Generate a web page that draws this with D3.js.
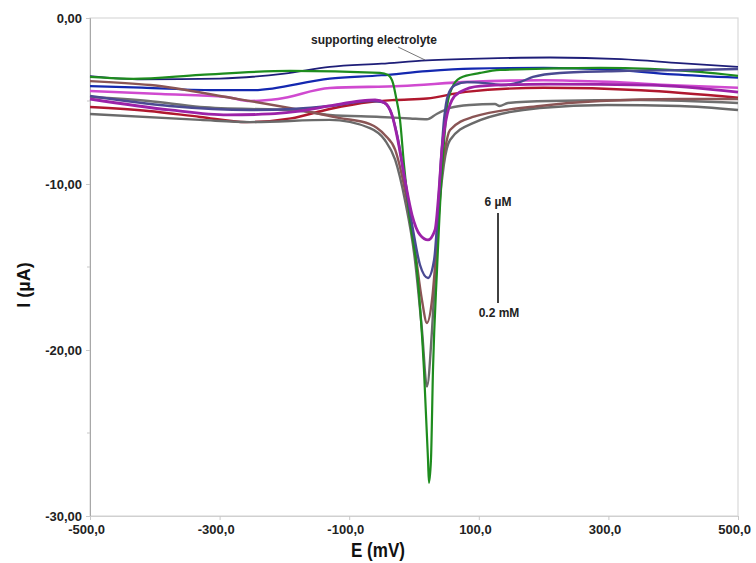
<!DOCTYPE html>
<html>
<head>
<meta charset="utf-8">
<script src="https://cdn.jsdelivr.net/npm/d3@7"></script>
<style>
  body { margin: 0; background: #fff; }
  text { font-family: "Liberation Sans", Arial, sans-serif; }
</style>
</head>
<body>
<svg id="chart" width="756" height="563"></svg>
<script>
// axis ticks
const xTicks = [-500, -300, -100, 100, 300, 500];
const yTicks = [0, -10, -20, -30];
const yMinor = [-5, -15, -25];

// voltammograms, [E (mV), I (uA)]
const electrolyte = [[-500, -3.5], [-420, -3.7], [-300, -3.65], [-200, -3.35], [-130, -2.95], [-50, -2.75],
  [20, -2.55], [130, -2.42], [210, -2.38], [320, -2.48], [410, -2.72], [500, -2.95]];
const blue = [[-500, -4.1], [-420, -4.2], [-300, -4.35], [-250, -4.35], [-130, -3.65], [-50, -3.45],
  [20, -3.2], [90, -3.05], [200, -3.0], [300, -3.1], [400, -3.4], [500, -3.6]];
const magenta = [[-500, -4.4], [-390, -4.58], [-290, -4.76], [-253, -5.0], [-210, -4.88], [-130, -4.22],
  [-20, -4.1], [85, -3.85], [200, -3.75], [300, -3.85], [400, -4.05], [500, -4.2]];
const red = [[-500, -5.36], [-410, -5.6], [-330, -5.96], [-258, -6.27], [-190, -6.05], [-130, -5.48],
  [-68, -5.06], [-30, -4.94], [20, -4.85], [80, -4.45], [200, -4.2], [350, -4.35], [500, -4.8]];
const gray = [[-500, -4.76], [-410, -5.0], [-330, -5.36], [-175, -5.6], [-130, -5.84], [-52, -5.96],
  [-6, -6.05], [20, -6.1], [35, -5.78], [56, -5.42], [86, -5.24], [125, -5.18], [132, -5.3],
  [145, -5.12], [210, -5.0], [350, -4.94], [500, -5.12]];
const purple = [[-500, -4.88], [-377, -5.54], [-288, -5.84], [-222, -5.78], [-187, -5.66], [-130, -5.3],
  [-83, -5.0], [-60, -4.94], [-45, -5.12], [-34, -5.84], [-25, -7.35], [-14, -9.76], [-3, -11.87],
  [9.3, -13.07], [21.6, -13.37], [32.4, -12.77], [38.6, -10.36], [43, -7.95], [49.4, -6.14],
  [58.6, -4.94], [71, -4.46], [102, -4.1], [210, -3.98], [364, -4.04], [500, -4.46]];
const slate = [[-500, -4.7], [-377, -5.3], [-253, -5.54], [-130, -5.3], [-68, -5.0], [-49, -5.06],
  [-37, -5.54], [-26, -7.05], [-14, -9.76], [-1.5, -12.77], [9.3, -14.88], [21.6, -15.66], [31, -14.58],
  [37, -11.57], [41.7, -8.55], [46.3, -6.14], [52.5, -4.64], [63.3, -4.04], [81.8, -3.86],
  [109.6, -3.92], [137.3, -4.04], [163.6, -3.86], [183.6, -3.55], [225, -3.31], [318, -3.19],
  [426, -3.13], [500, -3.07]];
const brown = [[-500, -3.8], [-407, -4.04], [-281, -4.82], [-176, -5.54], [-116, -6.02], [-68, -6.39],
  [-45, -7.05], [-29, -7.95], [-14, -10.36], [1.5, -13.98], [12.3, -17.0], [20, -18.37], [27.8, -17.0],
  [35.5, -13.37], [41.7, -9.76], [47.8, -7.95], [55.6, -6.75], [91, -5.96], [194, -5.3], [287, -5.0],
  [410, -4.88], [500, -4.88]];
const gray2 = [[-500, -5.78], [-330, -6.14], [-253, -6.27], [-130, -6.14], [-68, -6.63], [-45, -7.35],
  [-29, -8.55], [-14, -10.96], [1.5, -14.58], [12.3, -18.8], [20, -22.2], [27.8, -18.8], [34, -14.58],
  [40, -10.96], [46, -8.86], [55.6, -7.35], [91, -6.33], [194, -5.42], [298, -5.24], [410, -5.3],
  [500, -5.54]];
const green = [[-500, -3.55], [-433, -3.67], [-330, -3.43], [-191, -3.19], [-52.5, -3.31], [-40, -3.43],
  [-32.4, -3.92], [-27.8, -4.76], [-21.6, -6.14], [-15.4, -8.86], [-6.2, -12.17], [4.6, -15.18],
  [15.4, -21.2], [21.6, -26.6], [23.1, -28.0], [26.2, -26.6], [29.3, -21.2], [35.5, -15.18],
  [43.2, -9.16], [47.8, -6.75], [50.9, -5.36], [58.6, -4.22], [71, -3.61], [102, -3.31],
  [133, -3.13], [287, -3.01], [441, -3.25], [500, -3.49]];

const series = [
  { data: gray, color: '#6f6f6f', w: 2.4 },
  { data: red, color: '#b0182e', w: 2.4 },
  { data: magenta, color: '#d04ad0', w: 2.6 },
  { data: blue, color: '#1428b0', w: 2.2 },
  { data: electrolyte, color: '#1e1e78', w: 1.8 },
  { data: gray2, color: '#6a6a6a', w: 2.4 },
  { data: brown, color: '#8a5555', w: 2.4 },
  { data: green, color: '#1e8c1e', w: 2.2 },
  { data: slate, color: '#4a4a92', w: 2.4 },
  { data: purple, color: '#9c22a8', w: 2.8 },
];

const width = 756;
const height = 563;
const margin = { top: 18, right: 18, bottom: 47, left: 90 };

const svg = d3.select('#chart');
const x = d3.scaleLinear().domain([-500, 500]).range([margin.left, width - margin.right]);
const y = d3.scaleLinear().domain([-30, 0]).range([height - margin.bottom, margin.top]);
const fmt = (d, n) => d.toFixed(n).replace('.', ',');

// plot frame
svg.append('rect')
  .attr('x', x(-500)).attr('y', y(0))
  .attr('width', x(500) - x(-500)).attr('height', y(-30) - y(0))
  .attr('fill', 'none').attr('stroke', '#d9d9d9').attr('stroke-width', 1.2);

// y axis
const yAxis = svg.append('g')
  .attr('transform', `translate(${x(-500)},0)`)
  .call(d3.axisLeft(y).tickValues(yTicks).tickSize(4).tickFormat((d) => fmt(d, 2)));
yAxis.append('g').selectAll('line').data(yMinor).join('line')
  .attr('x1', -3).attr('x2', 0).attr('y1', (d) => y(d)).attr('y2', (d) => y(d));
yAxis.select('.domain').attr('stroke', '#a8a8a8');
yAxis.selectAll('line').attr('stroke', '#c8c8c8');
yAxis.selectAll('text')
  .attr('x', -8).attr('dy', '0.35em')
  .style('font-size', '13px').style('font-weight', 'bold').attr('fill', '#222');

// x axis
const xAxis = svg.append('g')
  .attr('transform', `translate(0,${y(-30)})`)
  .call(d3.axisBottom(x).tickValues(xTicks).tickSize(4).tickFormat((d) => fmt(d, 1)));
xAxis.select('.domain').attr('stroke', '#d0d0d0');
xAxis.selectAll('line').attr('stroke', '#c8c8c8');
xAxis.selectAll('text')
  .attr('y', 9).attr('dx', '-0.3em')
  .style('font-size', '13px').style('font-weight', 'bold').attr('fill', '#222');

// axis titles
svg.append('text')
  .attr('x', 378).attr('y', 557)
  .attr('text-anchor', 'middle')
  .attr('textLength', 54).attr('lengthAdjust', 'spacingAndGlyphs')
  .style('font-size', '20px').style('font-weight', 'bold').attr('fill', '#111')
  .text('E (mV)');
svg.append('text')
  .attr('transform', 'translate(30,285) rotate(-90)')
  .attr('text-anchor', 'middle')
  .style('font-size', '18px').style('font-weight', 'bold').attr('fill', '#111')
  .text('I (µA)');

// curves
const line = d3.line()
  .x((d) => x(d[0]))
  .y((d) => y(d[1]))
  .curve(d3.curveMonotoneX);

svg.append('g').selectAll('path').data(series).join('path')
  .attr('d', (s) => line(s.data))
  .attr('fill', 'none')
  .attr('stroke', (s) => s.color)
  .attr('stroke-width', (s) => s.w)
  .attr('stroke-linejoin', 'round');

// annotations
svg.append('text')
  .attr('x', 311).attr('y', 44)
  .style('font-size', '12px').style('font-weight', 'bold').attr('fill', '#222')
  .text('supporting electrolyte');
svg.append('line')
  .attr('x1', 398).attr('y1', 47).attr('x2', x(17)).attr('y2', y(-2.53))
  .attr('stroke', '#555').attr('stroke-width', 0.8);

svg.append('text')
  .attr('x', 498).attr('y', 206).attr('text-anchor', 'middle')
  .style('font-size', '12px').style('font-weight', 'bold').attr('fill', '#222')
  .text('6 µM');
svg.append('line')
  .attr('x1', 498).attr('y1', 213).attr('x2', 498).attr('y2', 303)
  .attr('stroke', '#111').attr('stroke-width', 1.6);
svg.append('text')
  .attr('x', 499).attr('y', 317).attr('text-anchor', 'middle')
  .style('font-size', '12px').style('font-weight', 'bold').attr('fill', '#222')
  .text('0.2 mM');
</script>
</body>
</html>
